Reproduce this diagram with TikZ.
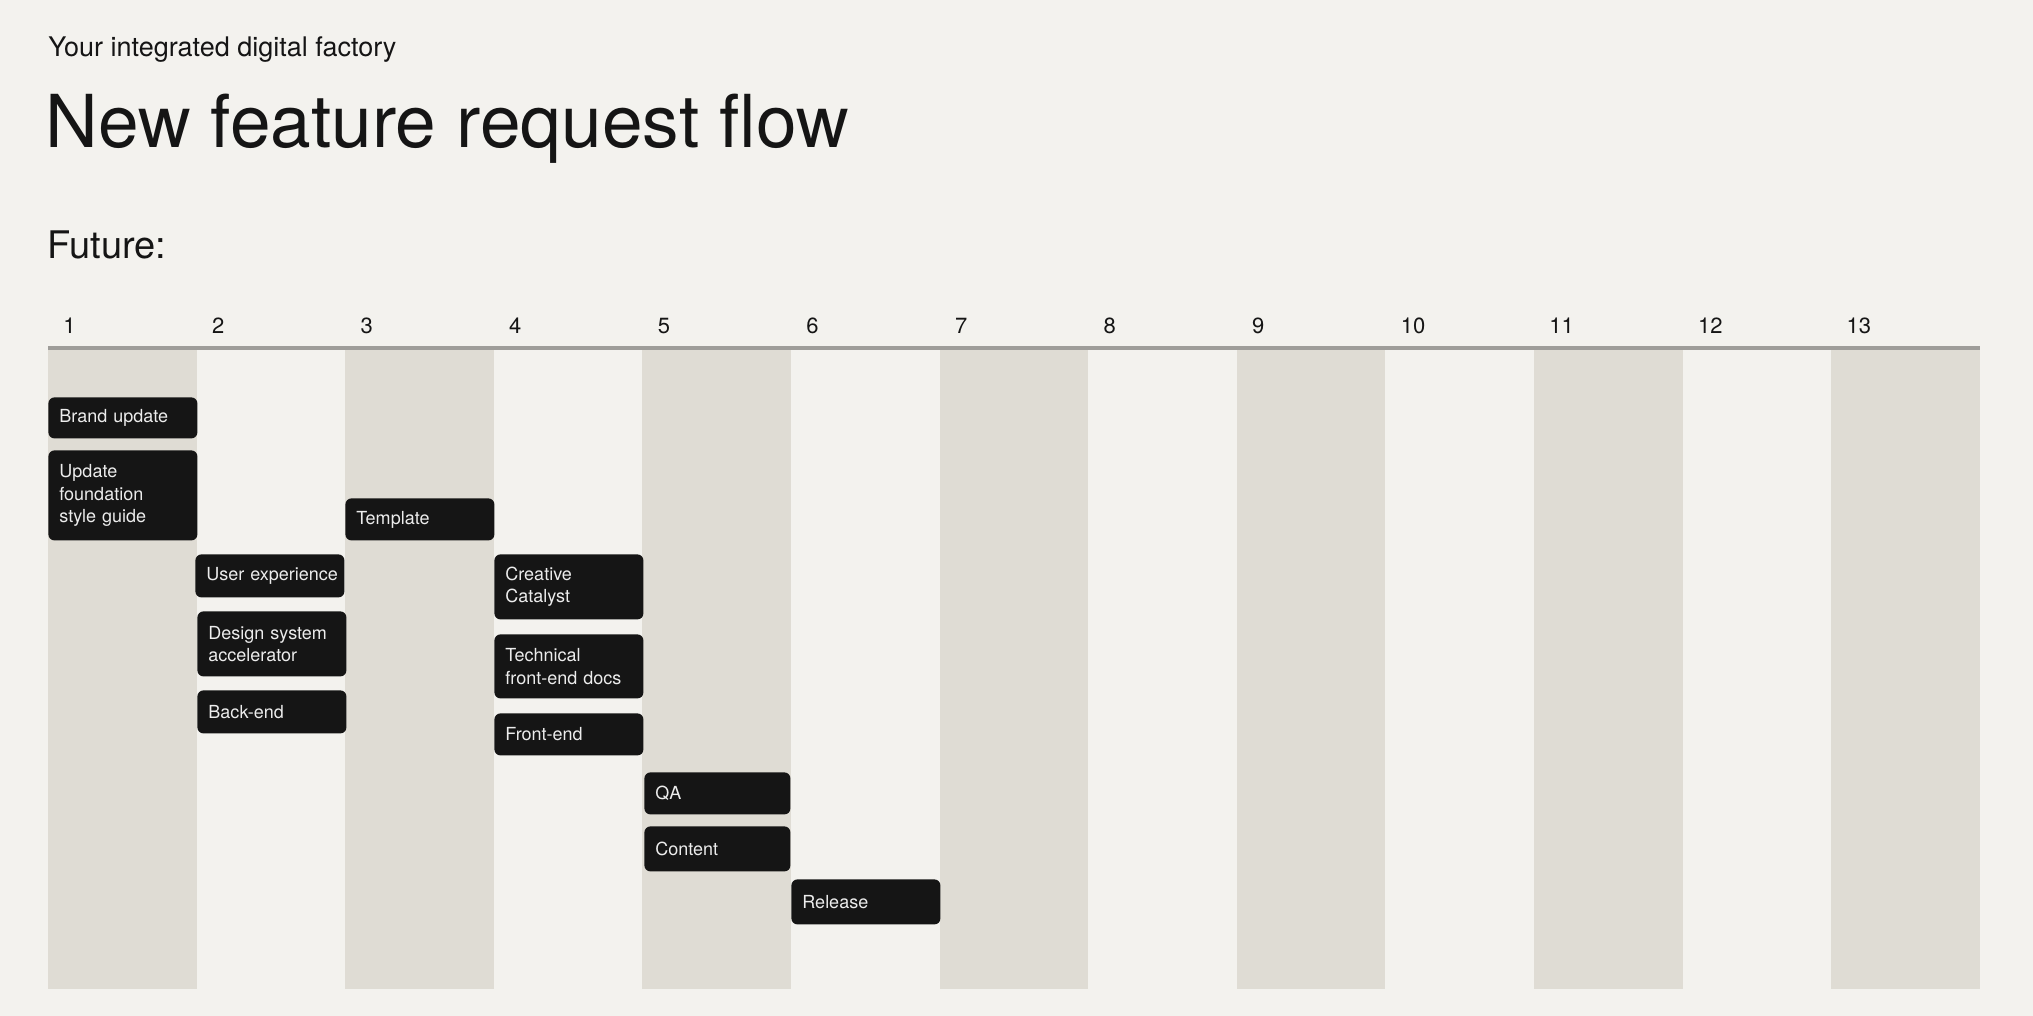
\documentclass[tikz,border=0pt]{standalone}
\usepackage{fontspec}
\setmainfont{TeX Gyre Heros}
\definecolor{bgc}{HTML}{F3F2EE}
\definecolor{colc}{HTML}{DFDCD4}
\definecolor{rulec}{HTML}{9E9D99}
\definecolor{boxc}{HTML}{151515}
\definecolor{boxtxt}{HTML}{ECECEC}
\definecolor{inkc}{HTML}{151515}
\tikzset{
  box/.style={fill=boxc, rounded corners=3pt, anchor=north west, text=boxtxt,
    font={\fontsize{9}{11.3}\selectfont\hyphenpenalty=10000\exhyphenpenalty=10000},
    align=left, inner xsep=5.5pt, inner ysep=0pt, text width=63.5pt},
  numlbl/.style={anchor=base west, inner sep=0pt, text=inkc, font=\fontsize{11}{13}\selectfont},
  ttl/.style={anchor=base west, inner sep=0pt, text=inkc}
}
\begin{document}
\begin{tikzpicture}[x=0.5pt,y=-0.5pt]
\fill[bgc] (0,0) rectangle (2033,1016);
\useasboundingbox (0,0) rectangle (2033,1016);
\node[ttl, font=\fontsize{13.5}{15}\selectfont] (sub) at (48,57) {Your integrated digital factory};
\node[ttl, font=\fontsize{36.5}{40}\selectfont] (title) at (45,148) {New feature request flow};
\node[ttl, font=\fontsize{19}{22}\selectfont] (future) at (47,258) {Future:};
\foreach \i in {1,...,13} {
  \pgfmathsetmacro\xl{48+148.6*(\i-1)}
  \ifodd\i \fill[colc] (\xl,350) rectangle ++(148.6,639); \fi
  \node[numlbl] (n\i) at (\xl+15,333) {\i};
}
\draw[rulec, line width=2pt] (48,348) -- (1980,348);
\node[box, minimum height=20.5pt] (brand) at (48,397) {\mbox{Brand update}};
\node[box, minimum height=45pt] (found) at (48,450) {Update\\foundation\\style guide};
\node[box, minimum height=21pt] (templ) at (345,498) {Template};
\node[box, minimum height=21.5pt] (ux) at (195,554) {\mbox{User experience}};
\node[box, minimum height=32.5pt] (dsa) at (197,611) {Design system\\accelerator};
\node[box, minimum height=21.5pt] (back) at (197,690) {Back-end};
\node[box, minimum height=32.5pt] (cc) at (494,554) {Creative\\Catalyst};
\node[box, minimum height=32pt] (tech) at (494,634) {Technical\\\mbox{front-end docs}};
\node[box, minimum height=21pt] (front) at (494,713) {Front-end};
\node[box, minimum height=21pt, text width=62pt] (qa) at (644,772) {QA};
\node[box, minimum height=22.5pt, text width=62pt] (content) at (644,826) {Content};
\node[box, minimum height=22.5pt] (release) at (791,879) {Release};
\end{tikzpicture}
\end{document}
